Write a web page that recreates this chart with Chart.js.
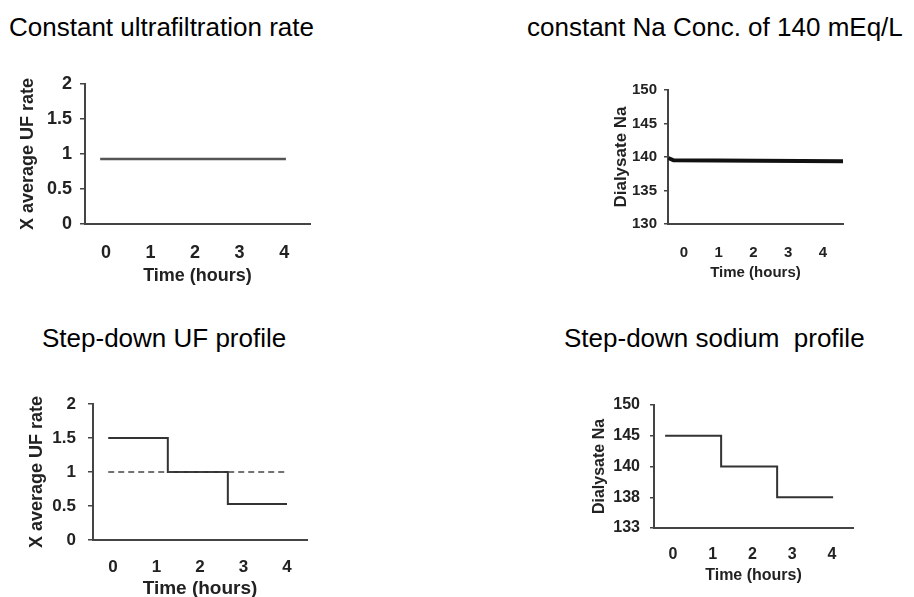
<!DOCTYPE html>
<html>
<head>
<meta charset="utf-8">
<script src="https://cdn.jsdelivr.net/npm/chart.js@4.4.1/dist/chart.umd.min.js"></script>
<style>
  html, body { margin: 0; padding: 0; background: #fff; width: 914px; height: 597px; overflow: hidden; }
  .title { position: absolute; font: 26px/26px 'Liberation Sans', Arial, sans-serif; color: #000; white-space: pre; }
  canvas { position: absolute; }
</style>
</head>
<body>
<div class="title" style="left:9px;top:14px">Constant ultrafiltration rate</div>
<div class="title" style="left:527px;top:14px">constant Na Conc. of 140 mEq/L</div>
<div class="title" style="left:42px;top:325px">Step-down UF profile</div>
<div class="title" style="left:564px;top:325px">Step-down sodium  profile</div>

<canvas id="c1" width="330" height="240" style="left:0;top:60px"></canvas>
<canvas id="c2" width="300" height="240" style="left:560px;top:60px"></canvas>
<canvas id="c3" width="330" height="245" style="left:0;top:360px"></canvas>
<canvas id="c4" width="330" height="237" style="left:560px;top:360px"></canvas>

<script>
// tick labels shared by all four panels
const hours = [0, 1, 2, 3, 4];

// constant UF rate
const ufConstTime = [-0.13, 4.04];
const ufConstRate = [0.93, 0.93];

// constant dialysate sodium
const naConstTime = [-0.45, -0.3, 4.58];
const naConstValue = [139.85, 139.5, 139.35];

// step-down UF profile (solid) and the average (dashed)
const ufStepTime = [-0.11, 1.26, 2.64, 4.0];
const ufStepRate = [1.5, 1.0, 0.53, 0.53];
const ufAvgTime = [-0.11, 4.0];
const ufAvgRate = [1, 1];

// step-down sodium profile, y axis uses the labels as printed
const naLevels = ['150', '145', '140', '138', '133'];
const naStepTime = [-0.2, 1.21, 2.62, 4.03];
const naStepValue = ['145', '140', '138', '138'];

const axisColor = '#444';
const textColor = '#222';
const boldFont = size => ({ family: "'Liberation Sans', Arial, sans-serif", size: size, weight: 'bold' });

function points(xs, ys) {
  return xs.map((x, i) => ({ x: x, y: ys[i] }));
}

function buildPanel(id, o) {
  const yScale = {
    type: o.yType || 'linear',
    afterFit: s => { s.width = o.yWidth; },
    grid: { display: true, drawOnChartArea: false, drawTicks: true, tickLength: o.tickLen, color: axisColor, lineWidth: 1.5 },
    border: { color: axisColor, width: 2 },
    ticks: { padding: o.yTickPad, font: o.tickFont, color: textColor },
    title: { display: true, text: o.yTitle, font: o.yTitleFont, color: textColor, padding: { top: o.yTitlePad, bottom: 0 } }
  };
  if (o.yType === 'category') {
    yScale.labels = o.yLabels;
  } else {
    yScale.min = o.yMin;
    yScale.max = o.yMax;
    yScale.ticks.stepSize = o.yStep;
    yScale.ticks.callback = v => String(v);
  }

  return new Chart(document.getElementById(id), {
    type: 'line',
    data: { datasets: o.datasets },
    options: {
      responsive: false,
      animation: false,
      layout: { padding: { left: 0, top: o.padTop, right: o.padRight, bottom: 0 } },
      plugins: { legend: { display: false }, tooltip: { enabled: false } },
      elements: { point: { radius: 0 }, line: { tension: 0 } },
      scales: {
        x: {
          type: 'linear',
          min: o.xMin,
          max: o.xMax,
          afterBuildTicks: s => { s.ticks = hours.map(v => ({ value: v })); },
          afterFit: s => { s.height = o.xHeight; },
          grid: { display: false, drawTicks: false },
          border: { color: axisColor, width: 2 },
          ticks: { padding: o.xTickPad, font: o.tickFont, color: textColor, maxRotation: 0 },
          title: { display: true, text: 'Time (hours)', font: o.xTitleFont, color: textColor, padding: { top: 0, bottom: o.xTitlePad } }
        },
        y: yScale
      }
    }
  });
}

buildPanel('c1', {
  padTop: 24, padRight: 20, yWidth: 85, xHeight: 76,
  xMin: -0.47, xMax: 4.58, yMin: 0, yMax: 2, yStep: 0.5,
  tickLen: 5, yTickPad: 8, tickFont: boldFont(18),
  yTitle: 'X average UF rate', yTitleFont: boldFont(18), yTitlePad: 17,
  xTickPad: 18, xTitleFont: boldFont(18), xTitlePad: 13,
  datasets: [{ data: points(ufConstTime, ufConstRate), borderColor: '#555', borderWidth: 2.5 }]
});

buildPanel('c2', {
  padTop: 30, padRight: 17, yWidth: 108, xHeight: 76,
  xMin: -0.46, xMax: 4.58, yMin: 130, yMax: 150, yStep: 5,
  tickLen: 4, yTickPad: 7, tickFont: boldFont(15),
  yTitle: 'Dialysate Na', yTitleFont: boldFont(17), yTitlePad: 50.8,
  xTickPad: 20, xTitleFont: boldFont(15), xTitlePad: 18,
  datasets: [{ data: points(naConstTime, naConstValue), borderColor: '#111', borderWidth: 4 }]
});

buildPanel('c3', {
  padTop: 44, padRight: 23, yWidth: 93, xHeight: 65,
  xMin: -0.46, xMax: 4.46, yMin: 0, yMax: 2, yStep: 0.5,
  tickLen: 5, yTickPad: 12, tickFont: boldFont(17),
  yTitle: 'X average UF rate', yTitleFont: boldFont(18), yTitlePad: 26,
  xTickPad: 16.8, xTitleFont: boldFont(19), xTitlePad: 4.6,
  datasets: [
    { data: points(ufAvgTime, ufAvgRate), borderColor: '#444', borderWidth: 1.5, borderDash: [6, 4] },
    { data: points(ufStepTime, ufStepRate), borderColor: '#333', borderWidth: 2, stepped: 'before' }
  ]
});

buildPanel('c4', {
  padTop: 45, padRight: 37, yWidth: 94, xHeight: 69,
  xMin: -0.48, xMax: 4.53, yType: 'category', yLabels: naLevels,
  tickLen: 4, yTickPad: 10, tickFont: boldFont(16),
  yTitle: 'Dialysate Na', yTitleFont: boldFont(16), yTitlePad: 29.5,
  xTickPad: 17.4, xTitleFont: boldFont(16), xTitlePad: 11.4,
  datasets: [{ data: points(naStepTime, naStepValue), borderColor: '#333', borderWidth: 2, stepped: 'before' }]
});
</script>
</body>
</html>
